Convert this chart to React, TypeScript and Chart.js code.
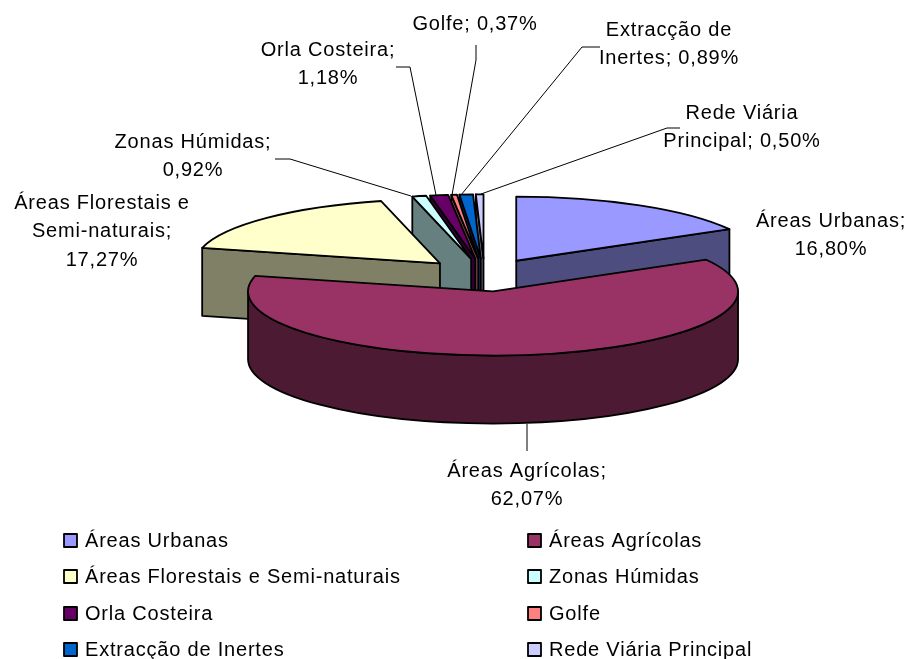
import React, { useEffect, useRef } from "react";
import { Chart, registerables } from "chart.js";

Chart.register(...registerables);

const categories = [
  "Áreas Urbanas",
  "Áreas Agrícolas",
  "Áreas Florestais e Semi-naturais",
  "Zonas Húmidas",
  "Orla Costeira",
  "Golfe",
  "Extracção de Inertes",
  "Rede Viária Principal",
];
const shares = [16.8, 62.07, 17.27, 0.92, 1.18, 0.37, 0.89, 0.5];
const topColors = ["#9999FF", "#993366", "#FFFFCC", "#CCFFFF", "#660066", "#FF8080", "#0066CC", "#CCCCFF"];
const wallColors = ["#4D4D80", "#4D1A33", "#808066", "#668080", "#330033", "#804040", "#003366", "#666680"];

// how each data label wraps: text before the value
const labelLines = [
  ["Áreas Urbanas;"],
  ["Áreas Agrícolas;"],
  ["Áreas Florestais e", "Semi-naturais;"],
  ["Zonas Húmidas;"],
  ["Orla Costeira;"],
  ["Golfe;"],
  ["Extracção de", "Inertes;"],
  ["Rede Viária", "Principal;"],
];
// last text line joins the value on the same line for these slices
const valueInline = [false, false, false, false, false, true, true, true];

// placement
const CX = 484.5;
const CY = 275;
const RADIUS = 245;
const SQUASH = 0.262;
const DEPTH = 68;
const EXPLODE = 63;
const FONT = '20px "Liberation Sans", Arial, sans-serif';
const TRACKING = "0.8px";
const LINE_H = 28.5;
const labelPos = [
  { x: 831, y: 221 },
  { x: 527, y: 471 },
  { x: 102, y: 203 },
  { x: 193, y: 142 },
  { x: 328, y: 50 },
  { x: 475, y: 24 },
  { x: 669, y: 30 },
  { x: 742, y: 113 },
];
const leaders: (number[][] | null)[] = [
  null,
  [[527, 424], [527, 451]],
  null,
  [[275, 159], [290, 159], [411, 196]],
  [[396, 67], [410, 67], [436, 195]],
  [[476, 45], [476, 60], [452, 195]],
  [[600, 47], [582, 47], [461, 195]],
  [[680, 128], [667, 128], [481, 194]],
];
const legendCols = [64, 528];
const legendRows = [541, 577, 614, 650];
const paintOrder = [0, 7, 6, 5, 4, 3, 2, 1];

const sy = (y: number) => CY + SQUASH * (y - CY);

const pie3d = {
  id: "pie3d",
  afterDatasetsUpdate(chart: any) {
    for (const arc of chart.getDatasetMeta(0).data) {
      const mid = (arc.startAngle + arc.endAngle) / 2;
      arc.x += Math.cos(mid) * EXPLODE;
      arc.y += Math.sin(mid) * EXPLODE;
    }
  },
  beforeDatasetsDraw(chart: any) {
    const ctx = chart.ctx;
    const arcs = chart.getDatasetMeta(0).data;
    ctx.save();
    ctx.lineWidth = 1.8;
    ctx.strokeStyle = "#000";
    ctx.lineJoin = "round";
    for (const i of paintOrder) {
      const a = arcs[i];
      const r = a.outerRadius;
      const ax = a.x;
      const ay = sy(a.y);
      ctx.fillStyle = wallColors[i];
      const face = (t: number) => {
        const rx = ax + Math.cos(t) * r;
        const ry = ay + Math.sin(t) * r * SQUASH;
        ctx.beginPath();
        ctx.moveTo(ax, ay);
        ctx.lineTo(rx, ry);
        ctx.lineTo(rx, ry + DEPTH);
        ctx.lineTo(ax, ay + DEPTH);
        ctx.closePath();
        ctx.fill();
        ctx.stroke();
      };
      if (-Math.cos(a.startAngle) > 0) face(a.startAngle);
      if (Math.cos(a.endAngle) > 0) face(a.endAngle);
      const from = Math.max(a.startAngle, 0);
      const to = Math.min(a.endAngle, Math.PI);
      if (to > from) {
        ctx.beginPath();
        ctx.ellipse(ax, ay, r, r * SQUASH, 0, from, to);
        ctx.ellipse(ax, ay + DEPTH, r, r * SQUASH, 0, to, from, true);
        ctx.closePath();
        ctx.fill();
        ctx.stroke();
      }
    }
    ctx.restore();
    ctx.save();
    ctx.translate(0, CY);
    ctx.scale(1, SQUASH);
    ctx.translate(0, -CY);
  },
  afterDatasetsDraw(chart: any) {
    const ctx = chart.ctx;
    ctx.restore();
    const arcs = chart.getDatasetMeta(0).data;
    ctx.save();
    ctx.lineWidth = 1.8;
    ctx.strokeStyle = "#000";
    ctx.lineJoin = "round";
    for (const a of arcs) {
      const ax = a.x;
      const ay = sy(a.y);
      ctx.beginPath();
      ctx.moveTo(ax, ay);
      ctx.ellipse(ax, ay, a.outerRadius, a.outerRadius * SQUASH, 0, a.startAngle, a.endAngle);
      ctx.closePath();
      ctx.stroke();
    }
    ctx.lineWidth = 1;
    for (const pts of leaders) {
      if (!pts) continue;
      ctx.beginPath();
      pts.forEach((p, k) => (k ? ctx.lineTo(p[0], p[1]) : ctx.moveTo(p[0], p[1])));
      ctx.stroke();
    }
    ctx.fillStyle = "#000";
    ctx.font = FONT;
    (ctx as any).letterSpacing = TRACKING;
    ctx.textBaseline = "middle";
    ctx.textAlign = "center";
    shares.forEach((v, i) => {
      const value = v.toFixed(2).replace(".", ",") + "%";
      const lines = [...labelLines[i]];
      if (valueInline[i]) lines[lines.length - 1] += " " + value;
      else lines.push(value);
      lines.forEach((t, k) => ctx.fillText(t, labelPos[i].x, labelPos[i].y + k * LINE_H));
    });
    ctx.textAlign = "left";
    categories.forEach((c, i) => {
      const x = legendCols[i % 2];
      const y = legendRows[Math.floor(i / 2)];
      ctx.fillStyle = topColors[i];
      ctx.fillRect(x, y - 7, 13, 13);
      ctx.strokeStyle = "#000";
      ctx.lineWidth = 1.8;
      ctx.strokeRect(x, y - 7, 13, 13);
      ctx.fillStyle = "#000";
      ctx.fillText(c, x + 21, y);
    });
    ctx.restore();
  },
};

export default function App() {
  const ref = useRef<HTMLCanvasElement>(null);
  useEffect(() => {
    document.body.style.margin = "0";
    const chart = new Chart(ref.current!, {
      type: "pie",
      data: {
        labels: categories,
        datasets: [
          {
            data: shares,
            backgroundColor: topColors,
            borderWidth: 0,
            radius: RADIUS,
            clip: false,
          } as any,
        ],
      },
      options: {
        animation: false,
        responsive: false,
        rotation: 0,
        layout: { padding: { left: 2 * CX - 909, right: 0, top: 0, bottom: 659 - 2 * CY } },
        plugins: { legend: { display: false }, tooltip: { enabled: false } },
      },
      plugins: [pie3d],
    });
    return () => chart.destroy();
  }, []);
  return <canvas ref={ref} width={909} height={659} style={{ display: "block" }} />;
}
